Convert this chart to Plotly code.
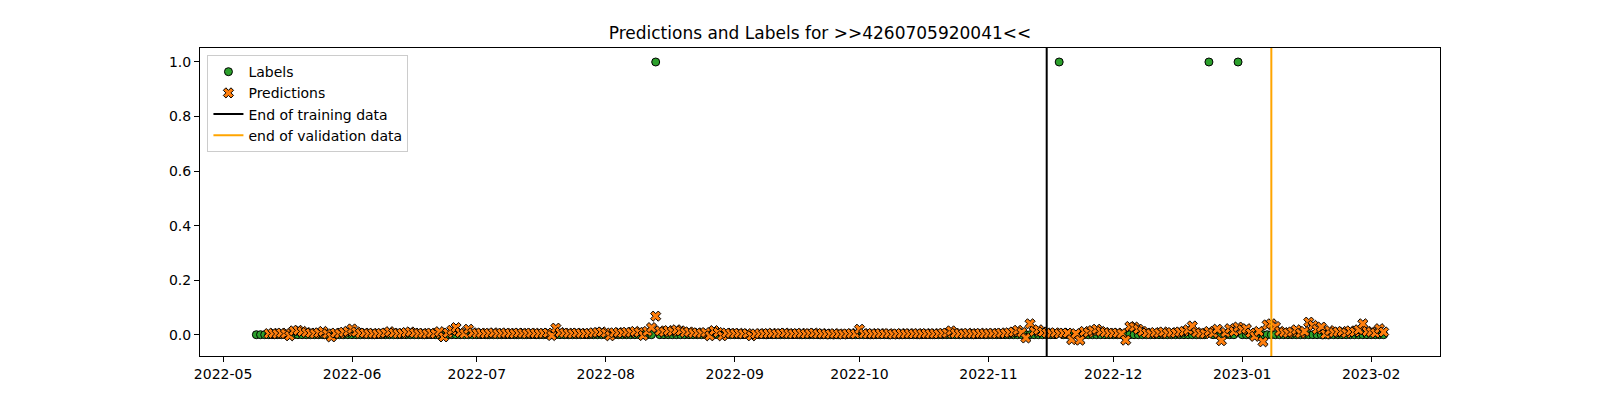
import pandas as pd
import plotly.graph_objects as go

title_text = "Predictions and Labels for >>4260705920041<<"

# Labels: daily from 2022-05-09 to 2023-02-04; value 1 on these dates, 0 otherwise
label_start = "2022-05-09"
label_end = "2023-02-04"
positive_label_dates = ["2022-08-13", "2022-11-18", "2022-12-24", "2022-12-31"]

# Predictions: daily from 2022-05-12
pred_start = "2022-05-12"
pred_may = [0.004, 0.005, 0.003, 0.006, 0.004, -0.004, 0.014, 0.016, 0.012, 0.008,
            0.006, 0.004, 0.007, 0.012, 0.003, -0.008, 0.006, 0.004, 0.009, 0.012]
pred_jun = [0.021, 0.010, 0.005, 0.006, 0.004, 0.005, 0.003, 0.005, 0.006, 0.011,
            0.006, 0.004, 0.005, 0.008, 0.010, 0.006, 0.004, 0.005, 0.003, 0.006,
            0.004, 0.011, -0.008, 0.006, 0.016, 0.026, 0.008, 0.004, 0.020, 0.007]
pred_jul = [0.005, 0.006, 0.004, 0.005, 0.007, 0.004, 0.005, 0.006, 0.005, 0.004,
            0.006, 0.005, 0.004, 0.006, 0.005, 0.004, 0.005, 0.006, -0.003, 0.024,
            0.008, 0.006, 0.005, 0.004, 0.006, 0.005, 0.004, 0.005, 0.007, 0.008, 0.010]
pred_aug = [0.006, -0.004, 0.007, 0.008, 0.006, 0.009, 0.008, 0.012, 0.009, -0.003,
            0.012, 0.026, 0.068, 0.014, 0.010, 0.015, 0.012, 0.018, 0.014, 0.008,
            0.010, 0.006, 0.007, 0.005, 0.008, -0.004, 0.015, 0.008, -0.004, 0.006, 0.005]
pred_sep = [0.004, 0.005, 0.003, 0.004, -0.004, 0.003, 0.004, 0.003, 0.004, 0.005,
            0.003, 0.004, 0.006, 0.004, 0.003, 0.004, 0.005, 0.003, 0.004, 0.006,
            0.003, 0.004, 0.003, 0.002, 0.004, 0.003, 0.002, 0.003, 0.004, 0.003]
pred_oct = [0.020, 0.004, 0.003, 0.004, 0.003, 0.004, 0.003, 0.004, 0.002, 0.003,
            0.004, 0.003, 0.004, 0.003, 0.004, 0.003, 0.004, 0.003, 0.004, 0.003,
            0.005, 0.006, 0.014, 0.005, 0.004, 0.003, 0.005, 0.004, 0.003, 0.005, 0.004]
pred_nov = [0.004, 0.005, 0.004, 0.006, 0.005, 0.007, 0.010, 0.016, 0.008, -0.012,
            0.040, 0.012, 0.018, 0.010, 0.006, 0.005, 0.007, 0.004, 0.006, 0.006,
            -0.018, 0.004, -0.020, 0.012, 0.008, 0.015, 0.020, 0.012, 0.008, 0.006]
pred_dec = [0.005, 0.006, 0.004, -0.020, 0.030, 0.028, 0.020, 0.012, 0.006, 0.004,
            0.008, 0.006, 0.010, 0.005, 0.008, 0.006, 0.010, 0.012, 0.018, 0.032,
            0.008, 0.005, 0.004, 0.012, 0.006, 0.020, -0.022, 0.008, 0.022, 0.012, 0.028]
pred_jan = [0.018, 0.022, 0.006, -0.006, 0.012, -0.026, 0.036, 0.040, 0.030, 0.012,
            0.008, 0.006, 0.010, 0.018, 0.005, 0.012, 0.046, 0.034, 0.020, 0.028,
            0.002, 0.015, 0.008, 0.010, 0.012, 0.006, 0.014, 0.010, 0.018, 0.040, 0.012]
pred_feb = [0.010, 0.006, 0.022, 0.010]

end_of_training = "2022-11-15"
end_of_validation = "2023-01-08"

predictions = (pred_may + pred_jun + pred_jul + pred_aug + pred_sep + pred_oct
               + pred_nov + pred_dec + pred_jan + pred_feb)
pred_dates = pd.date_range(pred_start, periods=len(predictions), freq="D")

label_dates = pd.date_range(label_start, label_end, freq="D")
pos = set(pd.to_datetime(positive_label_dates))
labels = [1.0 if d in pos else 0.0 for d in label_dates]

FONT = "DejaVu Sans"

fig = go.Figure()
fig.add_trace(go.Scatter(
    x=label_dates, y=labels, mode="markers", name="Labels",
    marker=dict(symbol="circle", size=8, color="#2ca02c",
                line=dict(color="black", width=1)),
))
fig.add_trace(go.Scatter(
    x=pred_dates, y=predictions, mode="markers", name="Predictions",
    marker=dict(symbol="x", size=9, color="#ff7f0e",
                line=dict(color="black", width=1)),
))
fig.add_shape(type="line", x0=end_of_training, x1=end_of_training, y0=0, y1=1,
              xref="x", yref="paper", layer="above",
              line=dict(color="black", width=2),
              showlegend=True, name="End of training data")
fig.add_shape(type="line", x0=end_of_validation, x1=end_of_validation, y0=0, y1=1,
              xref="x", yref="paper", layer="above",
              line=dict(color="orange", width=2),
              showlegend=True, name="end of validation data")

# the page body adds an 8px offset, so the figure is slightly smaller and shifted
fig.update_layout(
    width=1592, height=392,
    margin=dict(l=192, r=160, t=40, b=44),
    paper_bgcolor="white", plot_bgcolor="white",
    font=dict(family=FONT, size=14, color="black"),
    title=dict(text=title_text, x=(820 - 8) / 1592, xanchor="center",
               y=1 - 25 / 392, yanchor="middle", yref="container",
               font=dict(family=FONT, size=17, color="black")),
    showlegend=True,
    legend=dict(x=0.006, y=0.977, xanchor="left", yanchor="top",
                bgcolor="rgba(255,255,255,0.8)", bordercolor="#cccccc",
                borderwidth=1, font=dict(family=FONT, size=14, color="black"),
                tracegroupgap=0, itemwidth=30),
)
fig.update_xaxes(
    range=["2022-04-25 10:48", "2023-02-17 13:12"],
    tick0="2022-05-01", dtick="M1", tickformat="%Y-%m",
    showgrid=False, zeroline=False,
    showline=True, linecolor="black", linewidth=1, mirror=True,
    ticks="outside", ticklen=5, tickcolor="black",
)
fig.update_yaxes(
    range=[-0.0781, 1.0513],
    tick0=0, dtick=0.2, tickformat=".1f",
    showgrid=False, zeroline=False,
    showline=True, linecolor="black", linewidth=1, mirror=True,
    ticks="outside", ticklen=5, tickcolor="black",
)

fig.write_html("out.html")
